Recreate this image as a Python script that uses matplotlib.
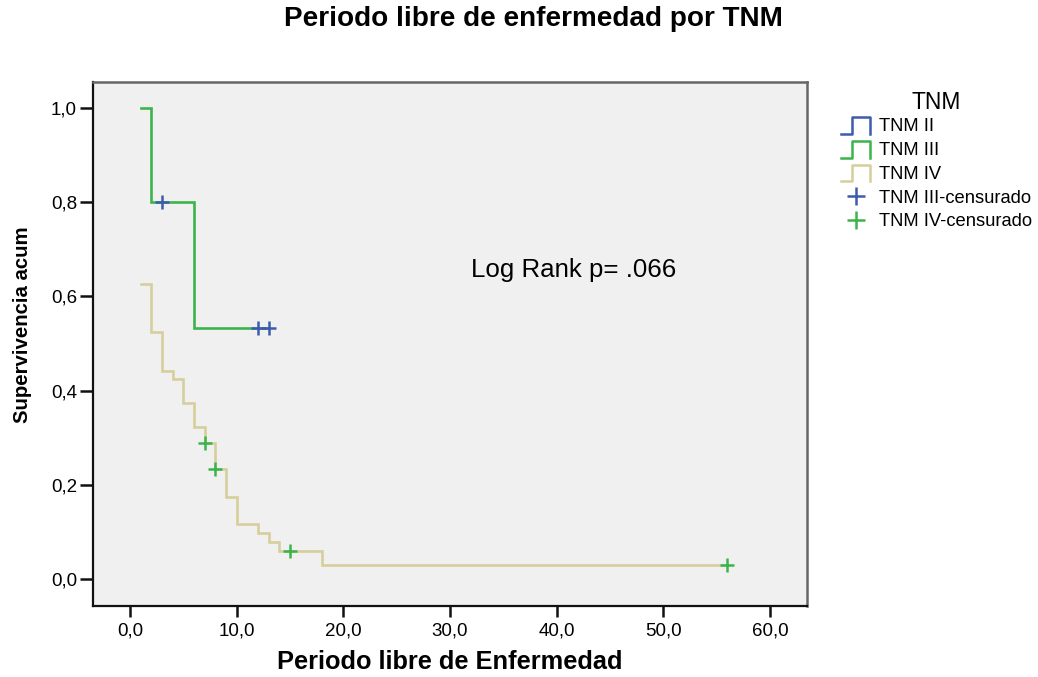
import matplotlib
matplotlib.use("Agg")
import matplotlib.pyplot as plt
from matplotlib.lines import Line2D
from matplotlib.legend_handler import HandlerBase

plt.rcParams['font.family'] = ['Liberation Sans', 'DejaVu Sans']

# Kaplan-Meier steps: TNM III
t3_times = [1, 2, 6, 13]
t3_surv = [1.0, 0.8, 0.533]
t3_cens_t = [3, 12, 13]
t3_cens_s = [0.8, 0.533, 0.533]

# Kaplan-Meier steps: TNM IV
t4_times = [1, 2, 3, 4, 5, 6, 7, 8, 9, 10, 12, 13, 14, 18, 56]
t4_surv = [0.627, 0.525, 0.441, 0.424, 0.373, 0.322, 0.288, 0.234,
           0.175, 0.117, 0.0975, 0.078, 0.0585, 0.029]
t4_cens_t = [7, 8, 15, 56]
t4_cens_s = [0.288, 0.234, 0.0585, 0.029]

x_ticks = [0, 10, 20, 30, 40, 50, 60]
y_ticks = [0.0, 0.2, 0.4, 0.6, 0.8, 1.0]

c_blue = '#3e5bab'
c_green = '#3cb44b'
c_tan = '#d6cf9c'


def step_xy(times, surv):
    xs, ys = [], []
    for i, s in enumerate(surv):
        xs += [times[i], times[i + 1]]
        ys += [s, s]
    return xs, ys


class StepHandler(HandlerBase):
    def create_artists(self, legend, orig_handle, xdescent, ydescent,
                       width, height, fontsize, trans):
        x0 = -xdescent
        y0 = -ydescent - height * 0.2
        h = height * 1.3
        xs = [x0, x0 + width * 0.38, x0 + width * 0.38, x0 + width, x0 + width]
        ys = [y0, y0, y0 + h, y0 + h, y0]
        ln = Line2D(xs, ys, color=orig_handle.get_color(), lw=1.8)
        ln.set_transform(trans)
        return [ln]


fig = plt.figure(figsize=(10.38, 6.77), dpi=100)
ax = fig.add_axes([0.0896, 0.1049, 0.6879, 0.774])
ax.set_facecolor('#f0f0f0')

xs, ys = step_xy(t4_times, t4_surv)
ax.plot(xs, ys, color=c_tan, lw=1.9, solid_joinstyle='miter')
xs, ys = step_xy(t3_times, t3_surv)
ax.plot(xs, ys, color=c_green, lw=1.9, solid_joinstyle='miter')
ax.plot(t3_cens_t, t3_cens_s, ls='none', marker='+', color=c_blue,
        markersize=10, markeredgewidth=1.8)
ax.plot(t4_cens_t, t4_cens_s, ls='none', marker='+', color=c_green,
        markersize=10, markeredgewidth=1.8)

ax.set_xlim(-3.47, 63.47)
ax.set_ylim(-0.0573, 1.0552)
ax.set_xticks(x_ticks)
ax.set_xticklabels([f"{v:.1f}".replace('.', ',') for v in x_ticks], fontsize=13.5)
ax.set_yticks(y_ticks)
ax.set_yticklabels([f"{v:.1f}".replace('.', ',') for v in y_ticks], fontsize=13.5)
ax.tick_params(axis='y', direction='out', length=9.5, width=1.8,
               color='#111111', pad=2)
ax.tick_params(axis='x', direction='out', length=8, width=1.8,
               color='#111111', pad=4)

for side in ['left', 'bottom']:
    ax.spines[side].set_color('#111111')
    ax.spines[side].set_linewidth(1.6)
for side in ['top', 'right']:
    ax.spines[side].set_color('#666666')
    ax.spines[side].set_linewidth(1.8)

ax.text(32.0, 0.656, 'Log Rank p= .066', fontsize=18.6, va='center', ha='left')

fig.text(0.514, 0.972, 'Periodo libre de enfermedad por TNM', fontsize=20.1,
         fontweight='bold', ha='center', va='center')
fig.text(0.433, 0.022, 'Periodo libre de Enfermedad', fontsize=18.3,
         fontweight='bold', ha='center', va='center')
fig.text(0.022, 0.52, 'Supervivencia acum', fontsize=14.7,
         fontweight='bold', ha='center', va='center', rotation=90)

# legend title drawn on its own so the entry rows can sit close beneath it
fig.text(0.902, 0.849, 'TNM', fontsize=16.5, ha='center', va='center')

handles = [
    Line2D([], [], color=c_blue),
    Line2D([], [], color=c_green),
    Line2D([], [], color=c_tan),
    Line2D([], [], ls='none', marker='+', color=c_blue, markersize=13,
           markeredgewidth=1.8),
    Line2D([], [], ls='none', marker='+', color=c_green, markersize=13,
           markeredgewidth=1.8),
]
labels = ['TNM II', 'TNM III', 'TNM IV', 'TNM III-censurado', 'TNM IV-censurado']
leg = fig.legend(handles, labels, loc='upper left',
                 bbox_to_anchor=(0.803, 0.836), frameon=False, fontsize=13.2,
                 handlelength=1.6, handletextpad=0.5, labelspacing=0.37,
                 borderaxespad=0,
                 handler_map={h: StepHandler() for h in handles[:3]})

fig.savefig('out.png', dpi=100, facecolor='white')
